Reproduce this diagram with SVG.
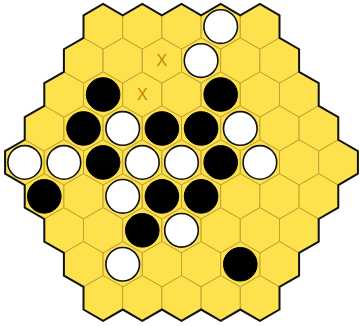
<svg xmlns="http://www.w3.org/2000/svg" xmlns:xlink="http://www.w3.org/1999/xlink" width="360" height="326" viewBox="0 0 360 326">
<style>
.cell{fill:#fde24e;stroke:#c4a030;stroke-width:1}
.outline{fill:none;stroke:#111;stroke-width:2;stroke-linejoin:miter}
.w{fill:#fff;stroke:#111;stroke-width:1.6}
.b{fill:#000;stroke:#000;stroke-width:1}
.x{font-family:"Liberation Sans",Arial,sans-serif;font-size:16px;fill:#c4830c;text-anchor:middle}
</style>
<defs>
<path id="hex" d="M0,-22.63 L19.6,-11.32 L19.6,11.32 L0,22.63 L-19.6,11.32 L-19.6,-11.32 Z"/>
</defs>
<g id="board">
<g class="cell">
<use href="#hex" x="103.1" y="26.6"/><use href="#hex" x="142.3" y="26.6"/><use href="#hex" x="181.5" y="26.6"/><use href="#hex" x="220.7" y="26.6"/><use href="#hex" x="259.9" y="26.6"/>
<use href="#hex" x="83.5" y="60.55"/><use href="#hex" x="122.7" y="60.55"/><use href="#hex" x="161.9" y="60.55"/><use href="#hex" x="201.1" y="60.55"/><use href="#hex" x="240.3" y="60.55"/><use href="#hex" x="279.5" y="60.55"/>
<use href="#hex" x="63.9" y="94.5"/><use href="#hex" x="103.1" y="94.5"/><use href="#hex" x="142.3" y="94.5"/><use href="#hex" x="181.5" y="94.5"/><use href="#hex" x="220.7" y="94.5"/><use href="#hex" x="259.9" y="94.5"/><use href="#hex" x="299.1" y="94.5"/>
<use href="#hex" x="44.3" y="128.45"/><use href="#hex" x="83.5" y="128.45"/><use href="#hex" x="122.7" y="128.45"/><use href="#hex" x="161.9" y="128.45"/><use href="#hex" x="201.1" y="128.45"/><use href="#hex" x="240.3" y="128.45"/><use href="#hex" x="279.5" y="128.45"/><use href="#hex" x="318.7" y="128.45"/>
<use href="#hex" x="24.7" y="162.4"/><use href="#hex" x="63.9" y="162.4"/><use href="#hex" x="103.1" y="162.4"/><use href="#hex" x="142.3" y="162.4"/><use href="#hex" x="181.5" y="162.4"/><use href="#hex" x="220.7" y="162.4"/><use href="#hex" x="259.9" y="162.4"/><use href="#hex" x="299.1" y="162.4"/><use href="#hex" x="338.3" y="162.4"/>
<use href="#hex" x="44.3" y="196.35"/><use href="#hex" x="83.5" y="196.35"/><use href="#hex" x="122.7" y="196.35"/><use href="#hex" x="161.9" y="196.35"/><use href="#hex" x="201.1" y="196.35"/><use href="#hex" x="240.3" y="196.35"/><use href="#hex" x="279.5" y="196.35"/><use href="#hex" x="318.7" y="196.35"/>
<use href="#hex" x="63.9" y="230.3"/><use href="#hex" x="103.1" y="230.3"/><use href="#hex" x="142.3" y="230.3"/><use href="#hex" x="181.5" y="230.3"/><use href="#hex" x="220.7" y="230.3"/><use href="#hex" x="259.9" y="230.3"/><use href="#hex" x="299.1" y="230.3"/>
<use href="#hex" x="83.5" y="264.25"/><use href="#hex" x="122.7" y="264.25"/><use href="#hex" x="161.9" y="264.25"/><use href="#hex" x="201.1" y="264.25"/><use href="#hex" x="240.3" y="264.25"/><use href="#hex" x="279.5" y="264.25"/>
<use href="#hex" x="103.1" y="298.2"/><use href="#hex" x="142.3" y="298.2"/><use href="#hex" x="181.5" y="298.2"/><use href="#hex" x="220.7" y="298.2"/><use href="#hex" x="259.9" y="298.2"/>
</g>
<path class="outline" d="M83.5,15.28 L103.1,3.97 L122.7,15.28 L142.3,3.97 L161.9,15.28 L181.5,3.97 L201.1,15.28 L220.7,3.97 L240.3,15.28 L259.9,3.97 L279.5,15.28 L279.5,37.92 L299.1,49.23 L299.1,71.87 L318.7,83.18 L318.7,105.82 L338.3,117.13 L338.3,139.77 L357.9,151.08 L357.9,173.72 L338.3,185.03 L338.3,207.67 L318.7,218.98 L318.7,241.62 L299.1,252.93 L299.1,275.57 L279.5,286.88 L279.5,309.52 L259.9,320.83 L240.3,309.52 L220.7,320.83 L201.1,309.52 L181.5,320.83 L161.9,309.52 L142.3,320.83 L122.7,309.52 L103.1,320.83 L83.5,309.52 L83.5,286.88 L63.9,275.57 L63.9,252.93 L44.3,241.62 L44.3,218.98 L24.7,207.67 L24.7,185.03 L5.1,173.72 L5.1,151.08 L24.7,139.77 L24.7,117.13 L44.3,105.82 L44.3,83.18 L63.9,71.87 L63.9,49.23 L83.5,37.92 Z"/>
</g>
<g id="marks">
<text class="x" x="161.9" y="66.3">X</text>
<text class="x" x="142.3" y="100.3">X</text>
</g>
<g id="white-stones">
<circle class="w" cx="220.7" cy="26.6" r="16.8"/>
<circle class="w" cx="201.1" cy="60.55" r="16.8"/>
<circle class="w" cx="122.7" cy="128.45" r="16.8"/>
<circle class="w" cx="240.3" cy="128.45" r="16.8"/>
<circle class="w" cx="24.7" cy="162.4" r="16.8"/>
<circle class="w" cx="63.9" cy="162.4" r="16.8"/>
<circle class="w" cx="142.3" cy="162.4" r="16.8"/>
<circle class="w" cx="181.5" cy="162.4" r="16.8"/>
<circle class="w" cx="259.9" cy="162.4" r="16.8"/>
<circle class="w" cx="122.7" cy="196.35" r="16.8"/>
<circle class="w" cx="181.5" cy="230.3" r="16.8"/>
<circle class="w" cx="122.7" cy="264.25" r="16.8"/>
</g>
<g id="black-stones">
<circle class="b" cx="103.1" cy="94.5" r="16.8"/>
<circle class="b" cx="220.7" cy="94.5" r="16.8"/>
<circle class="b" cx="83.5" cy="128.45" r="16.8"/>
<circle class="b" cx="161.9" cy="128.45" r="16.8"/>
<circle class="b" cx="201.1" cy="128.45" r="16.8"/>
<circle class="b" cx="103.1" cy="162.4" r="16.8"/>
<circle class="b" cx="220.7" cy="162.4" r="16.8"/>
<circle class="b" cx="44.3" cy="196.35" r="16.8"/>
<circle class="b" cx="161.9" cy="196.35" r="16.8"/>
<circle class="b" cx="201.1" cy="196.35" r="16.8"/>
<circle class="b" cx="142.3" cy="230.3" r="16.8"/>
<circle class="b" cx="240.3" cy="264.25" r="16.8"/>
</g>
</svg>
